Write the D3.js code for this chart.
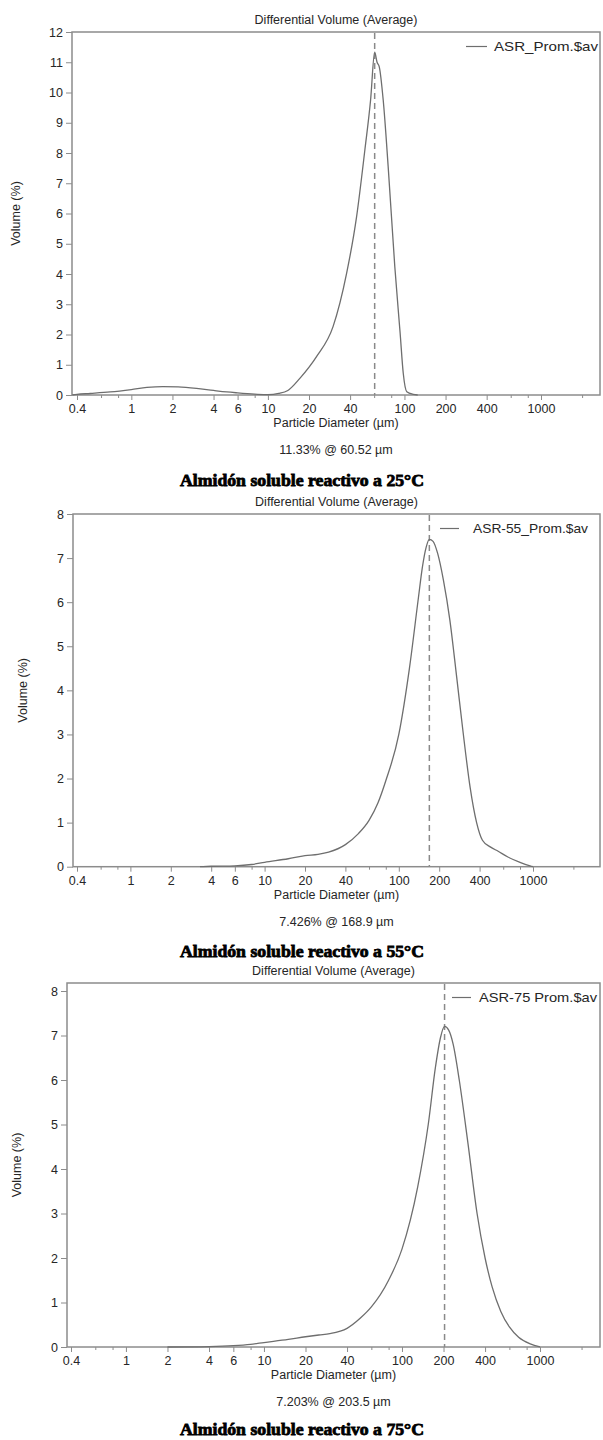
<!DOCTYPE html>
<html>
<head>
<meta charset="utf-8">
<script src="https://cdn.jsdelivr.net/npm/d3@7"></script>
<style>
    body { margin: 0; background: #fff; }
    text { font-family: "Liberation Sans", Arial, sans-serif; fill: #262626; }
</style>
</head>
<body>
<div id="chart"></div>
<script>
// x axis ticks (log scale, µm)
var majorTicks = [0.4, 1, 2, 4, 6, 10, 20, 40, 100, 200, 400, 1000];
var minorTicks = [0.6, 0.8, 8, 60, 80, 600, 800, 2000];

// ASR 25 °C
var diam25 = [0.37, 0.4, 0.5, 0.7, 1.0, 1.3, 1.7, 2.2, 3, 4, 5, 6, 8, 10, 12, 14, 17.2, 22.7, 30, 37.7, 44.6, 51.3, 56.5, 60.52, 63, 65.4, 69.9, 76, 85, 93, 98, 104, 116, 125];
var vol25 = [0.0, 0.02, 0.05, 0.1, 0.18, 0.25, 0.28, 0.27, 0.22, 0.15, 0.1, 0.07, 0.03, 0.01, 0.05, 0.15, 0.56, 1.27, 2.26, 4.02, 5.89, 8.1, 9.75, 11.33, 11.0, 10.85, 9.75, 7.55, 4.24, 2.04, 0.72, 0.11, 0.02, 0];

// ASR 55 °C
var diam55 = [3.3, 4, 6, 8, 10, 15, 20, 25, 30, 40, 50, 60, 70, 80, 100, 120, 140, 150, 160, 168.9, 180, 195, 215, 240, 270, 300, 340, 380, 420, 480, 550, 650, 800, 950, 1000];
var vol55 = [0, 0.01, 0.02, 0.05, 0.1, 0.18, 0.25, 0.28, 0.33, 0.5, 0.75, 1.05, 1.45, 1.95, 3.0, 4.5, 6.1, 6.8, 7.25, 7.426, 7.38, 7.1, 6.5, 5.6, 4.3, 3.1, 1.8, 1.0, 0.6, 0.45, 0.35, 0.22, 0.1, 0.02, 0];

// ASR 75 °C
var diam75 = [2, 4, 6, 8, 10, 15, 20, 25, 30, 40, 50, 60, 80, 100, 130, 155, 175, 190, 203.5, 218, 235, 260, 300, 350, 400, 450, 520, 600, 700, 850, 1000];
var vol75 = [0, 0.01, 0.03, 0.06, 0.1, 0.17, 0.23, 0.27, 0.3, 0.42, 0.65, 0.9, 1.5, 2.2, 3.6, 5.0, 6.3, 6.95, 7.203, 7.12, 6.8, 6.0, 4.6, 3.0, 2.0, 1.35, 0.8, 0.45, 0.22, 0.07, 0];

var seriesNames = ["ASR_Prom.$av", "ASR-55_Prom.$av", "ASR-75 Prom.$av"];
var peakDiam = [60.52, 168.9, 203.5];
var peakLabels = ["11.33% @ 60.52 µm", "7.426% @ 168.9 µm", "7.203% @ 203.5 µm"];
var captions = ["Almidón soluble reactivo a 25°C", "Almidón soluble reactivo a 55°C", "Almidón soluble reactivo a 75°C"];
var yMax = [12, 8, 8];

// where each panel sits on the page
var layout = [
    { left: 72, right: 600, frameTop: 32, yTop: 32, zero: 395, x04: 77, x1000: 541, ylabX: 20,
      legLine: [466, 487], legText: [494, 598], capY: 486 },
    { left: 73, right: 600, frameTop: 514, yTop: 514, zero: 866.7, x04: 77, x1000: 533, ylabX: 27,
      legLine: [440, 459], legText: [473, 588], capY: 957 },
    { left: 67, right: 600, frameTop: 983, yTop: 991, zero: 1347, x04: 71, x1000: 540, ylabX: 21,
      legLine: [452, 471], legText: [479, 597], capY: 1435 }
];

var series = [
    { d: diam25, v: vol25 },
    { d: diam55, v: vol55 },
    { d: diam75, v: vol75 }
];

var svg = d3.select("#chart").append("svg")
    .attr("width", 603)
    .attr("height", 1440);

var lineColor = "#6e6e6e",
    frameColor = "#8c8c8c",
    fs = "12.5px";

layout.forEach(function(p, k) {
    var g = svg.append("g");

    var x = d3.scaleLog().domain([0.4, 1000]).range([p.x04, p.x1000]);
    var y = d3.scaleLinear().domain([0, yMax[k]]).range([p.zero, p.yTop]);
    var cx = (p.left + p.right) / 2;

    //title
    g.append("text")
        .attr("x", cx)
        .attr("y", p.frameTop - 8)
        .attr("text-anchor", "middle")
        .style("font-size", fs)
        .text("Differential Volume (Average)");

    //y axis
    var yAxis = d3.axisLeft(y)
        .tickValues(d3.range(0, yMax[k] + 1))
        .tickSize(6)
        .tickPadding(3);
    var ya = g.append("g")
        .attr("transform", "translate(" + p.left + ",0)")
        .call(yAxis);
    ya.select(".domain").remove();
    ya.selectAll("line").attr("stroke", frameColor);
    ya.selectAll("text").style("font-size", fs).style("font-family", '"Liberation Sans", Arial, sans-serif').attr("fill", "#262626");

    //x axis, major + minor
    var xAxis = d3.axisBottom(x)
        .tickValues(majorTicks)
        .tickFormat(function(d) { return d3.format("~g")(d); })
        .tickSize(5)
        .tickPadding(4);
    var xa = g.append("g")
        .attr("transform", "translate(0," + p.zero + ")")
        .call(xAxis);
    xa.select(".domain").remove();
    xa.selectAll("line").attr("stroke", frameColor);
    xa.selectAll("text").style("font-size", fs).style("font-family", '"Liberation Sans", Arial, sans-serif').attr("fill", "#262626");

    var xm = g.append("g")
        .attr("transform", "translate(0," + p.zero + ")")
        .call(d3.axisBottom(x).tickValues(minorTicks).tickFormat("").tickSize(3));
    xm.select(".domain").remove();
    xm.selectAll("line").attr("stroke", frameColor);

    //frame
    g.append("rect")
        .attr("x", p.left)
        .attr("y", p.frameTop)
        .attr("width", p.right - p.left)
        .attr("height", p.zero - p.frameTop)
        .attr("fill", "none")
        .attr("stroke", frameColor)
        .attr("stroke-width", 1.5);

    //peak marker
    g.append("line")
        .attr("x1", x(peakDiam[k]))
        .attr("x2", x(peakDiam[k]))
        .attr("y1", p.frameTop + 1)
        .attr("y2", p.zero)
        .attr("stroke", "#8a8a8a")
        .attr("stroke-width", 1.5)
        .attr("stroke-dasharray", "6,4");

    //curve
    var s = series[k];
    var pts = s.d.map(function(d, i) { return [d, s.v[i]]; });
    var line = d3.line()
        .x(function(d) { return x(d[0]); })
        .y(function(d) { return y(d[1]); })
        .curve(d3.curveMonotoneX);
    g.append("path")
        .datum(pts)
        .attr("d", line)
        .attr("fill", "none")
        .attr("stroke", lineColor)
        .attr("stroke-width", 1.3);

    //legend
    g.append("text")
        .attr("x", p.legText[0])
        .attr("y", p.frameTop + 19)
        .attr("textLength", p.legText[1] - p.legText[0])
        .attr("lengthAdjust", "spacingAndGlyphs")
        .style("font-size", "13px")
        .text(seriesNames[k]);
    g.append("line")
        .attr("x1", p.legLine[0])
        .attr("x2", p.legLine[1])
        .attr("y1", p.frameTop + 14.5)
        .attr("y2", p.frameTop + 14.5)
        .attr("stroke", lineColor)
        .attr("stroke-width", 1.2);

    //axis titles
    g.append("text")
        .attr("transform", "translate(" + p.ylabX + "," + ((p.frameTop + p.zero) / 2) + ") rotate(-90)")
        .attr("text-anchor", "middle")
        .style("font-size", fs)
        .text("Volume (%)");

    g.append("text")
        .attr("x", cx)
        .attr("y", p.zero + 32)
        .attr("text-anchor", "middle")
        .style("font-size", fs)
        .text("Particle Diameter (µm)");

    g.append("text")
        .attr("x", cx)
        .attr("y", p.zero + 59)
        .attr("text-anchor", "middle")
        .style("font-size", fs)
        .text(peakLabels[k]);

    //caption under each chart
    g.append("text")
        .attr("x", 302)
        .attr("y", p.capY)
        .attr("text-anchor", "middle")
        .attr("textLength", 244)
        .attr("lengthAdjust", "spacingAndGlyphs")
        .style("font-family", '"Liberation Serif", "Times New Roman", serif')
        .style("font-weight", "bold")
        .style("font-size", "17px")
        .style("fill", "#000")
        .style("stroke", "#000")
        .style("stroke-width", 0.8)
        .text(captions[k]);
});
</script>
</body>
</html>
